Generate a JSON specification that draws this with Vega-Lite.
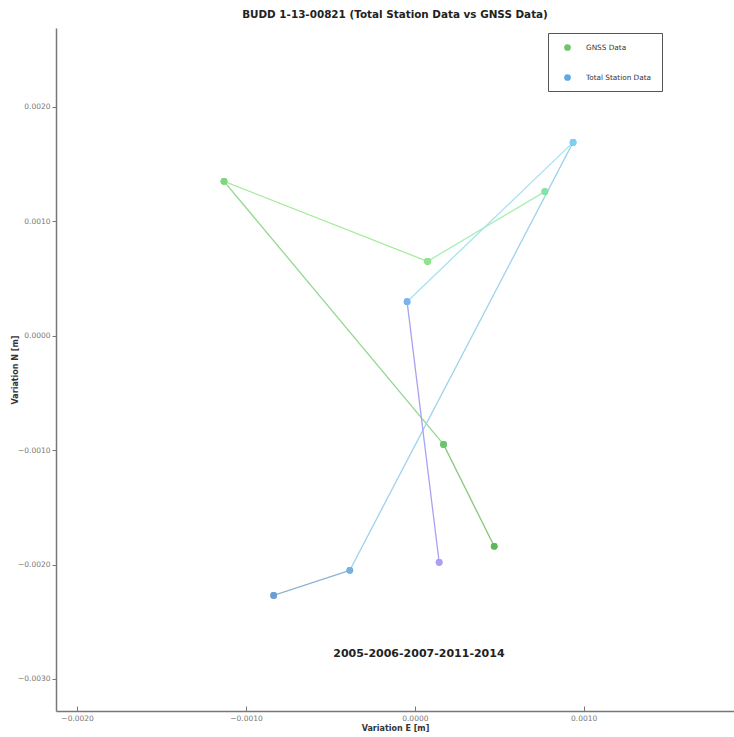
{
  "$schema": "https://vega.github.io/schema/vega-lite/v6.json",
  "width": 678,
  "height": 683,
  "autosize": {"type": "none"},
  "padding": {"left": 56, "top": 28, "right": 0, "bottom": 26},
  "background": "white",
  "title": {
    "text": "BUDD 1-13-00821 (Total Station Data vs GNSS Data)",
    "font": "DejaVu Sans",
    "fontSize": 10.4,
    "fontWeight": "bold",
    "color": "#222",
    "offset": 8,
    "anchor": "middle"
  },
  "config": {
    "view": {"stroke": null},
    "axis": {"grid": false, "domainColor": "#777", "domainWidth": 1.5, "tickColor": "#777", "labelFont": "DejaVu Sans", "labelFontSize": 7.5, "labelColor": "#777", "titleFont": "DejaVu Sans", "titleFontSize": 8, "titleFontWeight": "bold", "titleColor": "#333"}
  },
  "datasets": {
    "points": [
      {"series": "GNSS Data", "key": "g1", "year": 2005, "e": 0.00077, "n": 0.00126},
      {"series": "GNSS Data", "key": "g2", "year": 2006, "e": 0.000075, "n": 0.00065},
      {"series": "GNSS Data", "key": "g3", "year": 2007, "e": -0.00113, "n": 0.00135},
      {"series": "GNSS Data", "key": "g4", "year": 2011, "e": 0.00017, "n": -0.00095},
      {"series": "GNSS Data", "key": "g5", "year": 2014, "e": 0.00047, "n": -0.00184},
      {"series": "Total Station Data", "key": "t1", "year": 2005, "e": -0.000836, "n": -0.00227},
      {"series": "Total Station Data", "key": "t2", "year": 2006, "e": -0.000385, "n": -0.00205},
      {"series": "Total Station Data", "key": "t3", "year": 2007, "e": 0.000937, "n": 0.00169},
      {"series": "Total Station Data", "key": "t4", "year": 2011, "e": -0.000046, "n": 0.000298},
      {"series": "Total Station Data", "key": "t5", "year": 2014, "e": 0.000144, "n": -0.00198}
    ],
    "segments": [
      {"seg": "g12", "e": 0.00077, "n": 0.00126, "e2": 0.000075, "n2": 0.00065},
      {"seg": "g23", "e": 0.000075, "n": 0.00065, "e2": -0.00113, "n2": 0.00135},
      {"seg": "g34", "e": -0.00113, "n": 0.00135, "e2": 0.00017, "n2": -0.00095},
      {"seg": "g45", "e": 0.00017, "n": -0.00095, "e2": 0.00047, "n2": -0.00184},
      {"seg": "t12", "e": -0.000836, "n": -0.00227, "e2": -0.000385, "n2": -0.00205},
      {"seg": "t23", "e": -0.000385, "n": -0.00205, "e2": 0.000937, "n2": 0.00169},
      {"seg": "t34", "e": 0.000937, "n": 0.00169, "e2": -0.000046, "n2": 0.000298},
      {"seg": "t45", "e": -0.000046, "n": 0.000298, "e2": 0.000144, "n2": -0.00198}
    ],
    "notes": [
      {"label": "2005-2006-2007-2011-2014", "e": 0.000024, "n": -0.00278}
    ]
  },
  "layer": [
    {
      "data": {"name": "segments"},
      "mark": {"type": "rule", "strokeWidth": 1.3},
      "encoding": {
        "x": {"field": "e", "type": "quantitative", "scale": {"domain": [-0.002125, 0.00189], "nice": false, "zero": false},
          "axis": {"title": "Variation E [m]", "values": [-0.002, -0.001, 0, 0.001], "format": ".4f", "tickSize": -5, "labelPadding": 8, "titlePadding": 3}},
        "y": {"field": "n", "type": "quantitative", "scale": {"domain": [-0.00328, 0.00269], "nice": false, "zero": false},
          "axis": {"title": "Variation N [m]", "values": [-0.003, -0.002, -0.001, 0, 0.001, 0.002], "format": ".4f", "tickSize": 4, "labelPadding": 2, "titlePadding": -2}},
        "x2": {"field": "e2"},
        "y2": {"field": "n2"},
        "color": {"field": "seg", "type": "nominal", "legend": null,
          "scale": {"domain": ["g12", "g23", "g34", "g45", "t12", "t23", "t34", "t45"],
                    "range": ["#a6eeb4", "#a8ea9e", "#92d88e", "#84c878", "#8fb2d4", "#9ed2ec", "#a6e2ee", "#a8a2f0"]}}
      }
    },
    {
      "data": {"name": "points"},
      "mark": {"type": "point", "filled": true, "opacity": 1, "shape": "circle", "size": 45},
      "encoding": {
        "x": {"field": "e", "type": "quantitative"},
        "y": {"field": "n", "type": "quantitative"},
        "color": {"field": "series", "type": "nominal",
          "scale": {"domain": ["GNSS Data", "Total Station Data"], "range": ["#6cc46c", "#5fa8e6"]},
          "legend": {"orient": "none", "legendX": 492, "legendY": 5, "padding": 10,
            "title": "\u00a0\u00a0\u00a0\u00a0\u00a0\u00a0\u00a0\u00a0\u00a0\u00a0\u00a0\u00a0\u00a0\u00a0\u00a0\u00a0\u00a0\u00a0\u00a0\u00a0\u00a0\u00a0\u00a0\u00a0",
            "titleOrient": "right", "titleFontSize": 7.3, "titlePadding": 0,
            "strokeColor": "#555", "fillColor": "white", "symbolSize": 45, "symbolType": "circle",
            "rowPadding": 22, "labelFontSize": 7.3, "labelFont": "DejaVu Sans", "labelColor": "#333",
            "labelOffset": 14, "symbolOffset": 5}}
      }
    },
    {
      "data": {"name": "points"},
      "mark": {"type": "point", "filled": true, "opacity": 1, "shape": "circle", "size": 45},
      "encoding": {
        "x": {"field": "e", "type": "quantitative"},
        "y": {"field": "n", "type": "quantitative"},
        "color": {"field": "key", "type": "nominal", "legend": null,
          "scale": {"domain": ["g1", "g2", "g3", "g4", "g5", "t1", "t2", "t3", "t4", "t5"],
                    "range": ["#80e6a6", "#8ee68c", "#7fd67c", "#6cc46a", "#5cb65a", "#6a9ed0", "#74b2e2", "#7fd0f0", "#78b4ee", "#b29cf2"]}}
      }
    },
    {
      "data": {"name": "notes"},
      "mark": {"type": "text", "font": "DejaVu Sans", "fontSize": 11, "fontWeight": "bold", "color": "#222"},
      "encoding": {
        "x": {"field": "e", "type": "quantitative"},
        "y": {"field": "n", "type": "quantitative"},
        "text": {"field": "label"}
      }
    }
  ],
  "resolve": {"scale": {"color": "independent"}}
}
